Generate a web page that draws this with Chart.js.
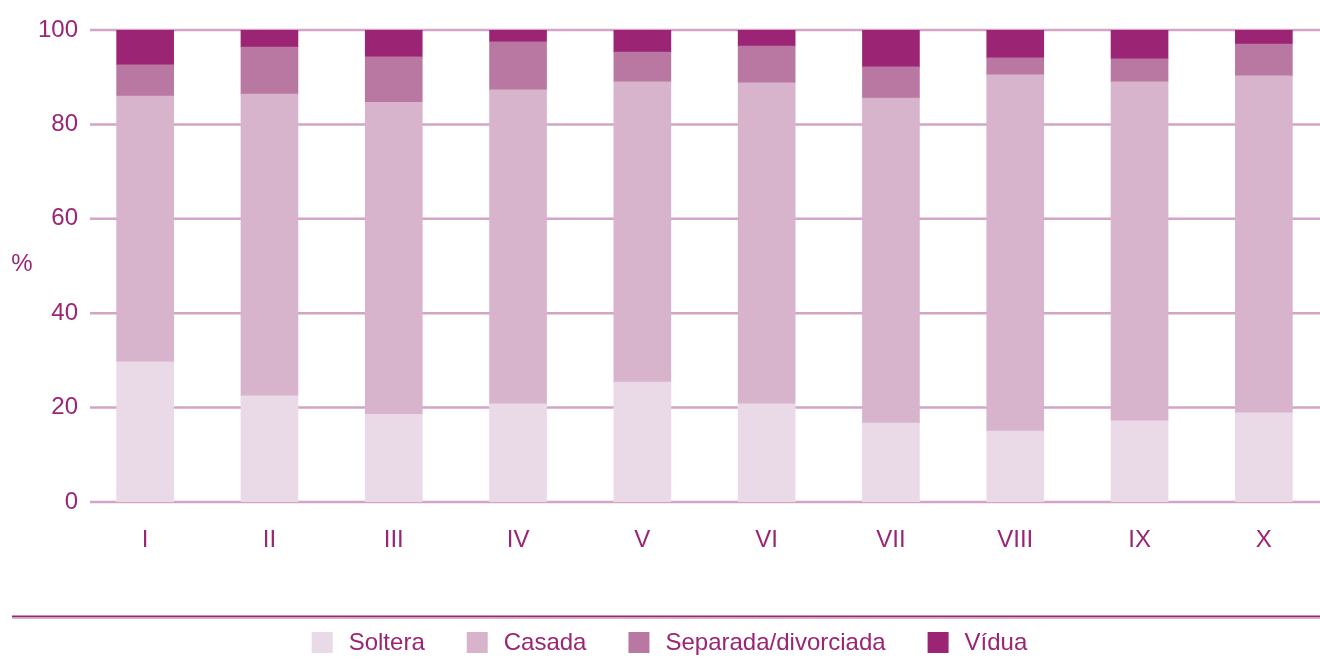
<!DOCTYPE html>
<html>
<head>
<meta charset="utf-8">
<script src="https://cdn.jsdelivr.net/npm/chart.js@4.4.1/dist/chart.umd.min.js"></script>
<style>
  html, body { margin: 0; padding: 0; background: #ffffff; overflow: hidden; }
  #wrap { position: relative; width: 1330px; height: 662px; }
</style>
</head>
<body>
<div id="wrap"><canvas id="c" width="1330" height="662"></canvas></div>
<script>
const categories = ['I', 'II', 'III', 'IV', 'V', 'VI', 'VII', 'VIII', 'IX', 'X'];
const soltera   = [29.7, 22.5, 18.6, 20.8, 25.4, 20.8, 16.7, 15.0, 17.2, 18.9];
const casada    = [56.3, 63.9, 66.1, 66.5, 63.6, 68.0, 68.9, 75.5, 71.8, 71.4];
const separada  = [6.6, 10.0, 9.6, 10.2, 6.3, 7.8, 6.6, 3.6, 4.9, 6.7];
const vidua     = [7.4, 3.6, 5.7, 2.5, 4.7, 3.4, 7.8, 5.9, 6.1, 3.0];
const seriesNames = ['Soltera', 'Casada', 'Separada/divorciada', 'Vídua'];
const yTicks = [0, 20, 40, 60, 80, 100];
const yAxisLabel = '%';

const colors = ['#EAD9E6', '#D8B4CC', '#B878A2', '#9B2574'];
const textColor = '#9B2574';
const gridColor = '#D3A4C6';
const FONT = '"Liberation Sans", Arial, sans-serif';

const extras = {
  id: 'extras',
  beforeDatasetsDraw(chart) {
    const ctx = chart.ctx;
    const y = chart.scales.y;
    ctx.save();
    ctx.strokeStyle = gridColor;
    ctx.lineWidth = 2.5;
    yTicks.forEach(v => {
      const py = y.getPixelForValue(v);
      ctx.beginPath();
      ctx.moveTo(90, py);
      ctx.lineTo(chart.width, py);
      ctx.stroke();
    });
    ctx.restore();
  },
  afterDraw(chart) {
    const ctx = chart.ctx;
    const y = chart.scales.y;
    ctx.save();
    // y axis label
    ctx.fillStyle = textColor;
    ctx.font = '24px ' + FONT;
    ctx.textAlign = 'center';
    ctx.textBaseline = 'middle';
    ctx.fillText(yAxisLabel, 22, (y.top + y.bottom) / 2 - 2);
    // separator lines
    ctx.fillStyle = '#9B2574';
    ctx.fillRect(12, 615.5, 1320 - 12, 2);
    ctx.fillStyle = '#D8B4CC';
    ctx.fillRect(12, 617.5, 1320 - 12, 1.5);
    // legend
    const box = 21, gapText = 16, gapItem = 42;
    ctx.font = '24px ' + FONT;
    const widths = seriesNames.map(n => ctx.measureText(n).width);
    let total = 0;
    widths.forEach((w, i) => { total += box + gapText + w + (i < widths.length - 1 ? gapItem : 0); });
    let x = 669.5 - total / 2;
    const by = 632;
    chart.data.datasets.forEach((ds, i) => {
      ctx.fillStyle = ds.backgroundColor;
      ctx.fillRect(x, by, box, box);
      ctx.fillStyle = textColor;
      ctx.textAlign = 'left';
      ctx.textBaseline = 'middle';
      ctx.fillText(ds.label, x + box + gapText, by + box / 2 + 1);
      x += box + gapText + widths[i] + gapItem;
    });
    ctx.restore();
  }
};

new Chart(document.getElementById('c'), {
  type: 'bar',
  data: {
    labels: categories,
    datasets: [
      { label: seriesNames[0], data: soltera, backgroundColor: colors[0] },
      { label: seriesNames[1], data: casada, backgroundColor: colors[1] },
      { label: seriesNames[2], data: separada, backgroundColor: colors[2] },
      { label: seriesNames[3], data: vidua, backgroundColor: colors[3] }
    ]
  },
  options: {
    responsive: false,
    animation: false,
    devicePixelRatio: 1,
    layout: { padding: { top: 30, right: 4, bottom: 0, left: 0 } },
    datasets: { bar: { barThickness: 57, borderWidth: 0 } },
    plugins: { legend: { display: false }, tooltip: { enabled: false } },
    scales: {
      x: {
        stacked: true,
        grid: { display: false, drawTicks: false },
        border: { display: false },
        ticks: { color: textColor, font: { family: FONT, size: 24 }, padding: 24, maxRotation: 0 },
        afterFit(s) { s.height = 160; }
      },
      y: {
        stacked: true,
        min: 0, max: 100,
        afterBuildTicks(s) { s.ticks = yTicks.map(v => ({ value: v })); },
        grid: { display: false, drawTicks: false },
        border: { display: false },
        ticks: { color: textColor, font: { family: FONT, size: 24 }, padding: 5 },
        afterFit(s) { s.width = 83; }
      }
    }
  },
  plugins: [extras]
});
</script>
</body>
</html>
